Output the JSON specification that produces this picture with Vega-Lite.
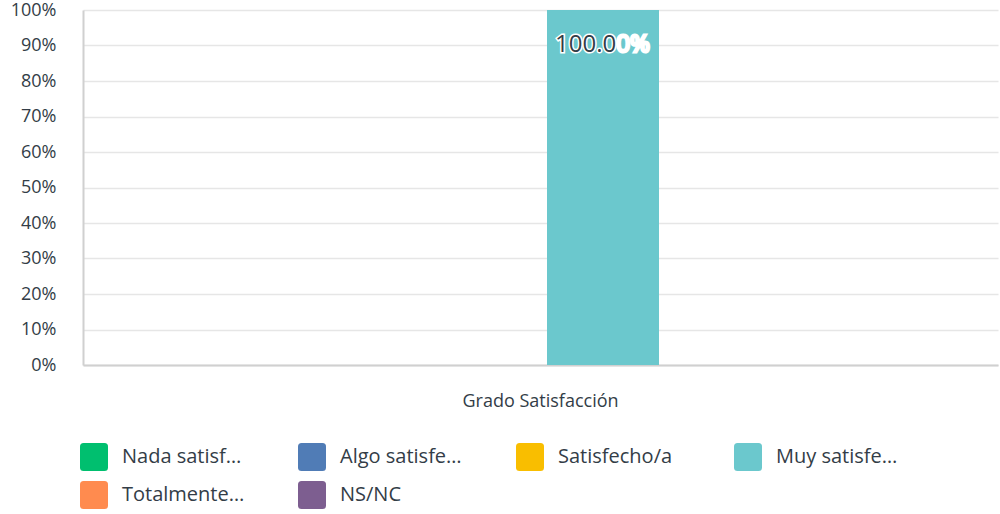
{
  "$schema": "https://vega.github.io/schema/vega-lite/v6.json",
  "width": 915,
  "height": 355,
  "autosize": "none",
  "padding": {"left": 83, "top": 10, "right": 2, "bottom": 149},
  "background": "white",
  "config": {
    "font": "Open Sans",
    "view": {"stroke": null}
  },
  "data": {
    "values": [
      {"group": "Grado Satisfacción", "category": "Nada satisf…", "value": 0, "label": "0.00%"},
      {"group": "Grado Satisfacción", "category": "Algo satisfe…", "value": 0, "label": "0.00%"},
      {"group": "Grado Satisfacción", "category": "Satisfecho/a", "value": 0, "label": "0.00%"},
      {"group": "Grado Satisfacción", "category": "Muy satisfe…", "value": 1, "label": "100.00%"},
      {"group": "Grado Satisfacción", "category": "Totalmente…", "value": 0, "label": "0.00%"},
      {"group": "Grado Satisfacción", "category": "NS/NC", "value": 0, "label": "0.00%"}
    ]
  },
  "encoding": {
    "x": {
      "field": "group", "type": "nominal",
      "scale": {"paddingInner": 0, "paddingOuter": 0.11},
      "axis": {
        "title": null, "labelAngle": 0, "labelFontSize": 18, "labelColor": "#333d47",
        "labelPadding": 27, "ticks": false, "domainColor": "#d0d0d0", "domainWidth": 2
      }
    },
    "xOffset": {
      "field": "category", "type": "nominal",
      "sort": ["Nada satisf…", "Algo satisfe…", "Satisfecho/a", "Muy satisfe…", "Totalmente…", "NS/NC"],
      "scale": {"paddingInner": 0.104, "paddingOuter": 0.052}
    },
    "y": {
      "field": "value", "type": "quantitative",
      "scale": {"domain": [0, 1]},
      "axis": {
        "title": null, "format": ".0%", "tickCount": 10, "labelFontSize": 18,
        "labelColor": "#333d47", "labelPadding": 27, "ticks": false,
        "domainColor": "#d0d0d0", "domainWidth": 2,
        "gridColor": "#e6e6e6", "gridWidth": 1.5
      }
    }
  },
  "layer": [
    {
      "mark": {"type": "bar"},
      "encoding": {
        "color": {
          "field": "category", "type": "nominal",
          "sort": ["Nada satisf…", "Algo satisfe…", "Satisfecho/a", "Muy satisfe…", "Totalmente…", "NS/NC"],
          "scale": {
            "domain": ["Nada satisf…", "Algo satisfe…", "Satisfecho/a", "Muy satisfe…", "Totalmente…", "NS/NC"],
            "range": ["#00bf6f", "#507cb6", "#f9be00", "#6bc8cd", "#ff8b4f", "#7d5e90"]
          },
          "legend": {
            "title": null, "orient": "none", "legendX": -3, "legendY": 433,
            "direction": "horizontal",
            "columns": 4, "gridAlign": "all", "columnPadding": 53, "rowPadding": 10,
            "symbolType": "M-1,-0.75Q-1,-1,-0.75,-1L0.75,-1Q1,-1,1,-0.75L1,0.75Q1,1,0.75,1L-0.75,1Q-1,1,-1,0.75Z",
            "symbolSize": 784, "symbolStrokeWidth": 0, "symbolOpacity": 1,
            "labelFontSize": 20, "labelColor": "#333d47", "labelOffset": 14,
            "labelLimit": 200
          }
        }
      }
    },
    {
      "transform": [{"filter": "datum.value > 0"}],
      "mark": {"type": "text", "align": "left", "baseline": "middle", "dx": -48, "dy": 35, "fontSize": 24, "fill": "white", "stroke": "white", "strokeWidth": 3},
      "encoding": {"text": {"field": "label"}}
    },
    {
      "transform": [{"filter": "datum.value > 0"}],
      "mark": {"type": "text", "align": "left", "baseline": "middle", "dx": -48, "dy": 35, "fontSize": 24, "fill": "#333d47", "limit": 68, "ellipsis": "\u200b"},
      "encoding": {"text": {"field": "label"}}
    }
  ]
}
